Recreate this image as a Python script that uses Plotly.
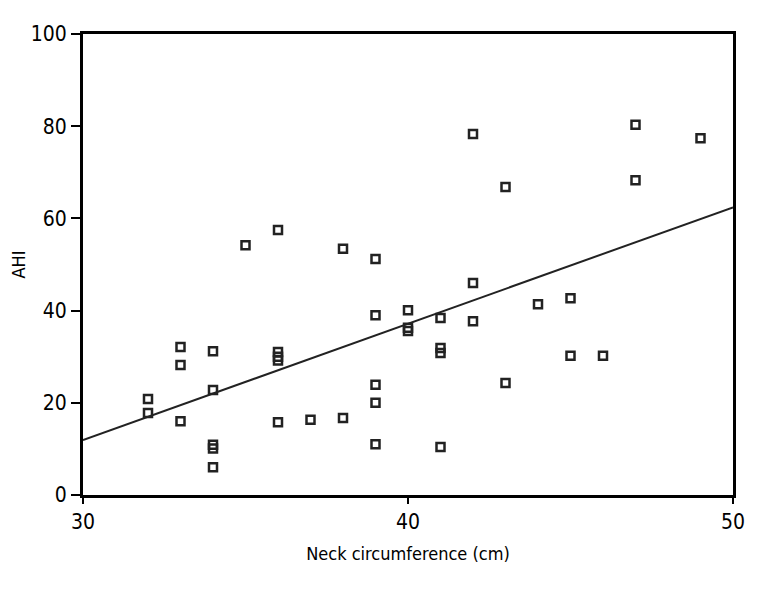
import plotly.graph_objects as go

# ---------------------------
# Données
# ---------------------------
neck = [32, 32, 33, 33, 33, 34, 34, 34, 34, 34,
        35, 36, 36, 36, 36, 36, 37, 38, 38, 39,
        39, 39, 39, 39, 40, 40, 40, 41, 41, 41,
        41, 42, 42, 42, 43, 43, 44, 45, 45, 46,
        47, 47, 49]
ahi = [20.8, 17.8, 32.1, 28.2, 16.0, 31.2, 22.8, 10.9, 10.1, 6.0,
       54.2, 57.5, 31.0, 30.0, 29.2, 15.8, 16.3, 53.4, 16.7, 51.2,
       39.0, 23.9, 20.0, 11.0, 40.1, 36.3, 35.6, 38.4, 31.9, 30.8,
       10.4, 78.3, 46.0, 37.7, 66.8, 24.3, 41.4, 42.7, 30.2, 30.2,
       80.3, 68.3, 77.4]

# droite de régression (extrémités lues)
fit_x = [30, 50]
fit_y = [11.9, 62.4]

x_ticks = [30, 40, 50]
y_ticks = [0, 20, 40, 60, 80, 100]

police = "DejaVu Sans Condensed, Roboto Condensed, Liberation Sans Narrow, sans-serif"

fig = go.Figure()
fig.add_trace(go.Scatter(
    x=fit_x, y=fit_y, mode="lines",
    line=dict(color="#222222", width=2),
    showlegend=False, hoverinfo="skip"
))
fig.add_trace(go.Scatter(
    x=neck, y=ahi, mode="markers",
    marker=dict(symbol="square-open", size=8, color="#222222",
                line=dict(width=2.5, color="#222222")),
    showlegend=False
))

# la page ajoute ~8 px de marge, d'où les marges décalées
fig.update_layout(
    width=771, height=591,
    margin=dict(l=75, r=46, t=26, b=104),
    paper_bgcolor="white", plot_bgcolor="white",
    font=dict(family=police, color="black", size=20),
    xaxis=dict(
        range=[30, 50], tickvals=x_ticks, ticks="outside", ticklen=6,
        tickwidth=2, tickcolor="black", automargin=False,
        showline=True, linewidth=3, linecolor="black", mirror=True,
        showgrid=False, zeroline=False,
        title=dict(text="Neck circumference (cm)", font=dict(size=18)),
        tickfont=dict(size=21)
    ),
    yaxis=dict(
        range=[0, 100], tickvals=y_ticks, ticks="outside", ticklen=9,
        tickwidth=2, tickcolor="black", automargin=False,
        showline=True, linewidth=3, linecolor="black", mirror=True,
        showgrid=False, zeroline=False,
        title=dict(text="AHI", font=dict(size=18)),
        tickfont=dict(size=21)
    )
)

fig.write_html("out.html")
